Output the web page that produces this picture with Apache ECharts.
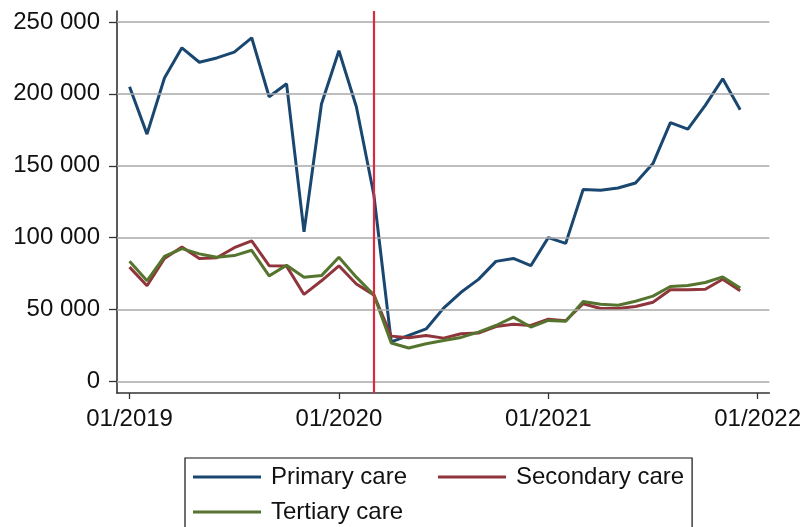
<!DOCTYPE html>
<html>
<head>
<meta charset="utf-8">
<script src="https://cdn.jsdelivr.net/npm/echarts@6/dist/echarts.min.js"></script>
<style>
html,body{margin:0;padding:0;background:#fff;}
#chart{width:804px;height:527px;}
</style>
</head>
<body>
<div id="chart"></div>
<script>
// Months from 01/2019 to 12/2021
const months = ["2019-01","2019-02","2019-03","2019-04","2019-05","2019-06","2019-07","2019-08","2019-09","2019-10","2019-11","2019-12",
  "2020-01","2020-02","2020-03","2020-04","2020-05","2020-06","2020-07","2020-08","2020-09","2020-10","2020-11","2020-12",
  "2021-01","2021-02","2021-03","2021-04","2021-05","2021-06","2021-07","2021-08","2021-09","2021-10","2021-11","2021-12"];

const primaryCare = [205000,172000,211000,232000,222000,225000,229000,239000,198000,207000,104000,193000,
  230000,191000,130000,27500,32000,36500,51000,62000,71000,83500,85500,80500,
  100000,96000,133500,133000,134500,138000,151500,180000,175500,192000,210500,189000];

const secondaryCare = [79500,66500,85500,93500,85500,86000,93000,97700,80500,80200,60500,70000,
  80400,67800,60200,31500,30300,32000,30100,33100,33600,38200,39800,38900,
  43300,42200,54000,50700,50700,52100,55100,63700,63700,64100,71100,63000];

const tertiaryCare = [83600,70000,87000,92400,88700,86400,87500,91200,73400,80800,72500,73600,
  86400,72500,60200,26700,23200,26200,28500,30600,34300,38900,44700,37800,
  42400,41900,55600,53700,53000,55800,59300,66000,66700,68800,72700,64900];

const yTickValues = [0,50000,100000,150000,200000,250000];
const yTickLabels = ["0","50 000","100 000","150 000","200 000","250 000"];
const xTickValues = [0,12,24,36];
const xTickLabels = ["01/2019","01/2020","01/2021","01/2022"];
const eventMonth = "2020-03";

const seriesNames = ["Primary care","Secondary care","Tertiary care"];
const seriesColors = ["#1a476f","#90353b","#55752f"];

const toPairs = arr => arr.map((v,i)=>[i,v]);
const eventIndex = months.indexOf(eventMonth);

const chart = echarts.init(document.getElementById('chart'), null, {renderer:'canvas'});
const FONT = '"Liberation Sans", Arial, Helvetica, sans-serif';

const option = {
  backgroundColor:'#fff',
  animation:false,
  textStyle:{fontFamily:FONT},
  grid:{left:117, right:33, top:11, bottom:134, containLabel:false},
  xAxis:{
    type:'value', min:-0.72, max:36.67,
    axisLine:{onZero:false, lineStyle:{color:'#333', width:1.6}},
    axisTick:{customValues:xTickValues, length:6, lineStyle:{color:'#333', width:1.3}},
    axisLabel:{customValues:xTickValues, margin:14, fontSize:24, color:'#111', fontFamily:FONT,
      formatter:v=>xTickLabels[xTickValues.indexOf(Math.round(v))] || ''},
    splitLine:{show:false}
  },
  yAxis:{
    type:'value', min:-8060, max:257640,
    axisLine:{show:true, onZero:false, lineStyle:{color:'#333', width:1.6}},
    axisTick:{show:true, customValues:yTickValues, length:8, lineStyle:{color:'#333', width:1.3}},
    axisLabel:{customValues:yTickValues, margin:17, fontSize:24, color:'#111', fontFamily:FONT,
      formatter:v=>yTickLabels[yTickValues.indexOf(Math.round(v))] || ''},
    splitLine:{show:false}
  },
  legend:{
    left:185, top:458, orient:'horizontal', width:500,
    icon:'rect', itemWidth:68, itemHeight:3, itemGap:11,
    padding:[7,8,30,8],
    borderColor:'#111', borderWidth:1.2,
    textStyle:{fontSize:24, color:'#111', fontFamily:FONT, width:156, lineHeight:24, overflow:'none', padding:[0,0,0,5]},
    data:seriesNames
  },
  series:[
    {
      name:'grid', type:'line', data:[], silent:true, z:0,
      markLine:{silent:true, symbol:'none', label:{show:false}, animation:false,
        lineStyle:{color:'#a9a9a9', width:1.6, type:'solid'},
        data:yTickValues.map(v=>({yAxis:v}))}
    },
    {name:seriesNames[0], type:'line', data:toPairs(primaryCare), showSymbol:false, z:3,
      lineStyle:{width:3, color:seriesColors[0]}, itemStyle:{color:seriesColors[0]},
      markLine:{silent:true, symbol:'none', label:{show:false}, animation:false,
        lineStyle:{color:'#d92a43', width:2.2, type:'solid'},
        data:[{xAxis:eventIndex}]}
    },
    {name:seriesNames[1], type:'line', data:toPairs(secondaryCare), showSymbol:false, z:3,
      lineStyle:{width:3, color:seriesColors[1]}, itemStyle:{color:seriesColors[1]}},
    {name:seriesNames[2], type:'line', data:toPairs(tertiaryCare), showSymbol:false, z:3,
      lineStyle:{width:3, color:seriesColors[2]}, itemStyle:{color:seriesColors[2]}}
  ]
};
chart.setOption(option);
</script>
</body>
</html>
